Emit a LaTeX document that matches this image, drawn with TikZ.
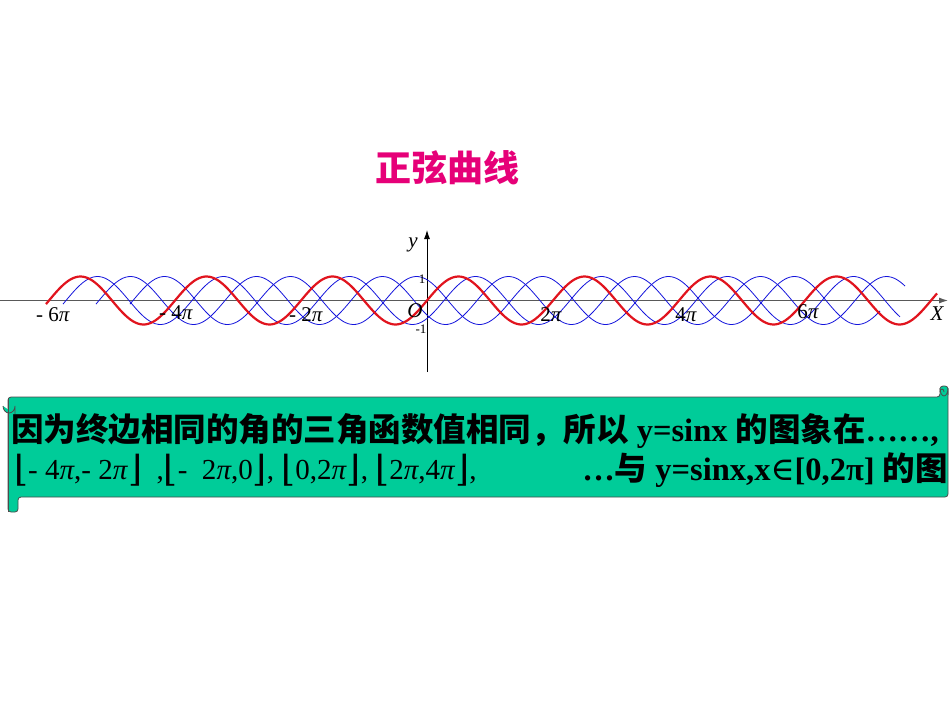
\documentclass[tikz,border=0pt]{standalone}
\usepackage{fontspec}
\setmainfont{Liberation Serif}
\newfontfamily\cjk{Noto Sans CJK SC}
\newfontfamily\brk{DejaVu Serif}
\usetikzlibrary{arrows.meta}
\definecolor{bannergreen}{RGB}{0,204,153}
\definecolor{titlepink}{RGB}{230,0,120}
\newcommand{\ipi}{\textit{π}}
\newcommand{\lb}{{\brk\fontsize{36}{36}\selectfont\raisebox{-2pt}{⌊}}}
\newcommand{\rb}{{\brk\fontsize{36}{36}\selectfont\raisebox{-2pt}{⌋}}}
\tikzset{
  redwave/.style={draw={rgb,255:red,225;green,20;blue,30}, line width=2.2pt},
  bluewave/.style={draw={rgb,255:red,20;green,20;blue,220}, line width=0.8pt},
  axis/.style={draw=black!65, line width=1pt},
  ticklab/.style={font=\fontsize{21}{22}\selectfont, inner sep=0pt},
  smalllab/.style={font=\fontsize{13}{13}\selectfont, inner sep=0pt},
  bannertext/.style={font=\fontsize{32.5}{34}\selectfont\bfseries, inner sep=0pt, anchor=west}
}
\begin{document}
\begin{tikzpicture}[x=1pt,y=-1pt]
\useasboundingbox[fill=white] (0,0) rectangle (950,713);
\node[font=\cjk\bfseries\fontsize{36}{38}\selectfont, text=titlepink] (title) at (447,168) {正弦曲线};
% axes
\coordinate (xl) at (0,300.5); \coordinate (xr) at (948,300.5);
\coordinate (yb) at (427,372); \coordinate (yt) at (427,230);
\draw[axis,-{Latex[length=9pt,width=6pt]}] (xl) -- (xr);
\draw[draw=black, line width=0.9pt,-{Latex[length=9pt,width=6pt]}] (yb) -- (yt);
% blue waves
\foreach \s/\a/\b in {17/63/900, 50/96/905, 84/130/880}{
  \draw[bluewave] plot[domain=\a:\b, samples=300, smooth] (\x,{300.5-24*sin((\x-427-\s)/126*360)});
}
% red wave
\draw[redwave] plot[domain=46:937, samples=360, smooth] (\x,{300.5-24*sin((\x-427)/126*360)});
% labels
\node[ticklab] (lm6) at (53,315) {- 6\ipi};
\node[ticklab] (lm4) at (176,313) {- 4\ipi};
\node[ticklab] (lm2) at (306,315) {- 2\ipi};
\node[ticklab] (lo) at (415,311) {\itshape O};
\node[ticklab] (l2) at (551,315) {2\ipi};
\node[ticklab] (l4) at (686,315) {4\ipi};
\node[ticklab] (l6) at (808,312) {6\ipi};
\node[ticklab] (lx) at (937,314) {\itshape X};
\node[ticklab] (ly) at (413,245) {\itshape y};
\node[smalllab] (l1) at (422,279) {1};
\node[smalllab] (lm1) at (421,329) {-1};
% banner
\draw[fill=bannergreen, draw=black!70, line width=0.8pt, rounded corners=3pt]
  (8,397) -- (940,397) -- (940,386) -- (948,386) -- (948,497) -- (18,497) -- (18,512) -- (8,512) -- cycle;
\draw[fill=bannergreen, draw=black!70, line width=0.8pt] (940,388) arc (180:0:4 and 8) -- (948,395);
\draw[draw=black!70, line width=0.8pt] (944,392) arc (0:-180:2 and 3);
\draw[fill=bannergreen, draw=black!70, line width=0.8pt] (3,406) arc (180:0:6 and 7) -- (15,414);
\draw[draw=black!70, line width=0.8pt] (8,398) -- (8,512);
\node[bannertext] (t1) at (11,431) {{\cjk 因为终边相同的角的三角函数值相同，所以} y=sinx {\cjk 的图象在}……,};
\node[bannertext, font=\fontsize{29}{31}\selectfont] (t2a) at (14,470) {\lb- 4\ipi,- 2\ipi\rb\ \ ,\lb-\ \ 2\ipi,0\rb, \lb0,2\ipi\rb, \lb2\ipi,4\ipi\rb,};
\node[bannertext, anchor=east] (t2b) at (948,470) {…{\cjk 与} y=sinx,x{\brk\mdseries ∈}[0,2π] {\cjk 的图}};
\end{tikzpicture}
\end{document}
